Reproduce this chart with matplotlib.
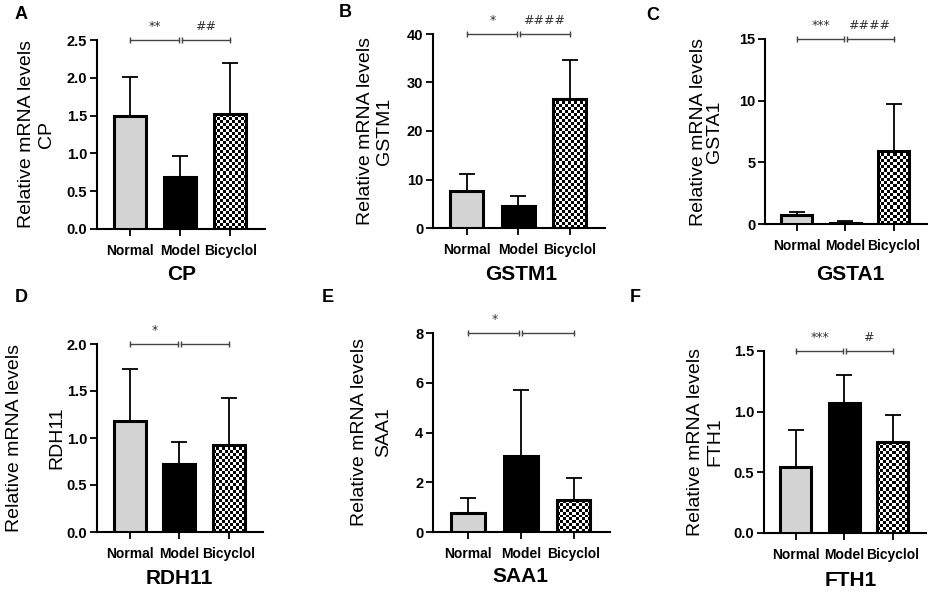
import numpy as np
import matplotlib
matplotlib.use("Agg")
import matplotlib.pyplot as plt

groups = ["Normal", "Model", "Bicyclol"]
genes = ["CP", "GSTM1", "GSTA1", "RDH11", "SAA1", "FTH1"]
letters = ["A", "B", "C", "D", "E", "F"]

cp_mean = [1.49, 0.69, 1.52]
cp_sd = [0.52, 0.27, 0.68]
gstm1_mean = [7.6, 4.5, 26.7]
gstm1_sd = [3.5, 2.2, 8.0]
gsta1_mean = [0.75, 0.12, 5.95]
gsta1_sd = [0.22, 0.13, 3.8]
rdh11_mean = [1.18, 0.72, 0.93]
rdh11_sd = [0.55, 0.24, 0.50]
saa1_mean = [0.75, 3.07, 1.27]
saa1_sd = [0.60, 2.65, 0.92]
fth1_mean = [0.54, 1.07, 0.75]
fth1_sd = [0.31, 0.23, 0.22]

means = [cp_mean, gstm1_mean, gsta1_mean, rdh11_mean, saa1_mean, fth1_mean]
sds = [cp_sd, gstm1_sd, gsta1_sd, rdh11_sd, saa1_sd, fth1_sd]
yticks = [[0, 0.5, 1.0, 1.5, 2.0, 2.5], [0, 10, 20, 30, 40], [0, 5, 10, 15],
          [0, 0.5, 1.0, 1.5, 2.0], [0, 2, 4, 6, 8], [0, 0.5, 1.0, 1.5]]
ytick_fmt = ["%.1f", "%d", "%d", "%.1f", "%d", "%.1f"]
sig_left = ["**", "*", "***", "*", "*", "***"]
sig_right = ["##", "####", "####", "", "", "#"]

W, H = 934, 592
# axes boxes in pixels: left, top, right, bottom
boxes = [(97, 40, 265, 229), (433, 34, 605, 228), (765, 39, 927, 224),
         (97, 344, 263, 532), (433, 333, 610, 532), (764, 351, 926, 533)]
letter_pos = [(15, 6), (339, 4), (646, 7), (15, 289), (322, 289), (630, 289)]
title_pos = [(182, 274), (521, 274), (850, 274), (179, 579), (520, 577), (851, 581)]
ylab_x = [(26, 47), (364, 386), (698, 715), (15, 57), (358, 386), (694, 716)]

fig = plt.figure(figsize=(W / 100, H / 100), dpi=100)
fig.patch.set_facecolor("white")

font = "Liberation Sans"
x = np.arange(3)
bw = 0.64

for i in range(6):
    l, t, r, b = boxes[i]
    ax = fig.add_axes([l / W, 1 - b / H, (r - l) / W, (b - t) / H])
    ax.set_xlim(-0.66, 2.69)
    ax.set_ylim(0, yticks[i][-1])

    ax.errorbar(x, means[i], yerr=[[0, 0, 0], sds[i]], fmt="none", ecolor="black",
                elinewidth=1.3, capsize=5.5, capthick=1.3, zorder=1)
    bars = ax.bar(x, means[i], width=bw, color=["#d3d3d3", "black", "none"],
                  edgecolor="black", linewidth=2.2, zorder=3)

    # checkerboard fill for the Bicyclol bar
    bic = bars[2]
    x0, x1 = x[2] - bw / 2, x[2] + bw / 2
    p0 = ax.transData.transform((x0, 0))
    p1 = ax.transData.transform((x1, means[i][2]))
    nc = max(1, int(round(abs(p1[0] - p0[0]) / 3.0)))
    nr = max(1, int(round(abs(p1[1] - p0[1]) / 3.0)))
    checker = (np.add.outer(np.arange(nr), np.arange(nc)) % 2).astype(float)
    im = ax.imshow(checker, cmap="gray", extent=(x0, x1, 0, means[i][2]),
                   aspect="auto", interpolation="nearest", zorder=2)
    im.set_clip_path(bic)
    ax.set_xlim(-0.66, 2.69)
    ax.set_ylim(0, yticks[i][-1])

    for s in ["top", "right"]:
        ax.spines[s].set_visible(False)
    for s in ["left", "bottom"]:
        ax.spines[s].set_linewidth(1.5)
    ax.set_xticks(x)
    ax.set_xticklabels(groups, fontweight="bold", fontsize=10, family=font)
    ax.set_yticks(yticks[i])
    ax.set_yticklabels([ytick_fmt[i] % v for v in yticks[i]], fontweight="bold",
                       fontsize=10.5, family=font)
    ax.tick_params(axis="both", length=5, width=1.3, direction="out")
    ax.tick_params(axis="y", pad=2)
    ax.tick_params(axis="x", pad=6)

    # significance brackets
    ytop = yticks[i][-1]
    for (a, c, lab) in [(0, 1, sig_left[i]), (1, 2, sig_right[i])]:
        xa = a + (0.03 if a == 1 else 0)
        xc = c - (0.03 if c == 1 else 0)
        ax.plot([xa, xc], [ytop, ytop], color="#444444", lw=1.0, clip_on=False,
                marker="|", markersize=5, markeredgewidth=1.0, zorder=4)
        if lab:
            ax.annotate(lab, xy=((a + c) / 2, ytop), xytext=(0, 5),
                        textcoords="offset points", ha="center", va="bottom",
                        fontsize=9, color="#333333", annotation_clip=False)

    cy = 1 - (t + b) / 2 / H
    x1l, x2l = ylab_x[i]
    if x2l - x1l > 30:
        fig.text(x1l / W, cy, "Relative mRNA levels", rotation=90,
                 ha="center", va="center", fontsize=14, family=font)
        fig.text(x2l / W, cy, genes[i], rotation=90,
                 ha="center", va="center", fontsize=14, family=font)
    else:
        fig.text((x1l + x2l) / 2 / W, cy, "Relative mRNA levels\n" + genes[i],
                 rotation=90, ha="center", va="center", multialignment="center",
                 fontsize=14, family=font, linespacing=(x2l - x1l) / 18.0)

    fig.text(letter_pos[i][0] / W, 1 - letter_pos[i][1] / H, letters[i],
             ha="left", va="top", fontsize=13, fontweight="bold", family=font)
    fig.text(title_pos[i][0] / W, 1 - title_pos[i][1] / H, genes[i],
             ha="center", va="center", fontsize=15, fontweight="bold", family=font)

fig.savefig("out.png", dpi=100, facecolor="white")
